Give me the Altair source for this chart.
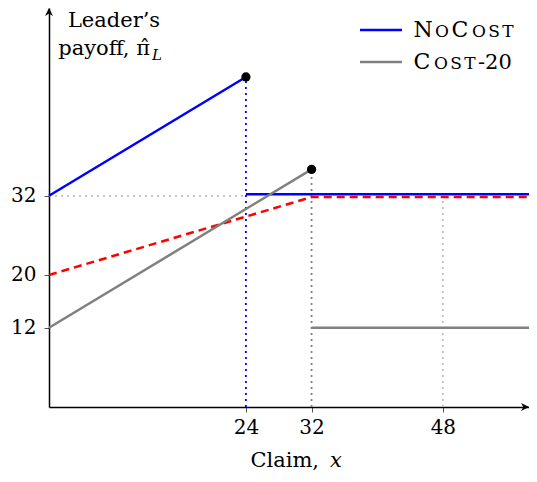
import altair as alt
import pandas as pd

# ---- data ----
XMAX = 58.5
YMAX = 60.45
nocost_rise_x = [0, 24]
nocost_rise_y = [32, 50]
nocost_flat_x = [24, XMAX]
nocost_flat_y = [32.25, 32.25]
cost_rise_x = [0, 32]
cost_rise_y = [12, 36]
cost_flat_x = [32, XMAX]
cost_flat_y = [12, 12]
red_x = [0, 32, XMAX]
red_y = [20, 31.8, 31.8]
dots_x = [24, 32]
dots_y = [50, 36]
x_ticks = [24, 32, 48]
y_ticks = [12, 20, 32]

# legend text as small capitals: (character, is_small)
legend1 = [("N", 0), ("O", 1), ("C", 0), ("O", 1), ("S", 1), ("T", 1)]
legend2 = [("C", 0), ("O", 1), ("S", 1), ("T", 1)]
legend1_cx = [374, 393, 411, 430, 445, 459]
legend2_cx = [373, 392, 407, 421]
legend2_tail = "-20"

FONT = "DejaVu Serif"


def seg_df(parts):
    rows = []
    for s, (xs_, ys_) in enumerate(parts):
        for i, (a, b) in enumerate(zip(xs_, ys_)):
            rows.append({"x": a, "y": b, "seg": s, "i": i})
    return pd.DataFrame(rows)


blue_df = seg_df([(nocost_rise_x, nocost_rise_y), (nocost_flat_x, nocost_flat_y)])
gray_df = seg_df([(cost_rise_x, cost_rise_y), (cost_flat_x, cost_flat_y)])
red_df = seg_df([(red_x, red_y)])
dots_df = pd.DataFrame({"x": dots_x, "y": dots_y})

xs = alt.Scale(domain=[0, XMAX], nice=False, zero=False)
ys = alt.Scale(domain=[0, YMAX], nice=False, zero=False)

X = alt.X("x:Q", scale=xs, axis=alt.Axis(values=x_ticks, title=None, grid=False,
                                          domainColor="black", domainWidth=1.5,
                                          tickColor="#555", tickSize=5, tickWidth=1,
                                          labelFont=FONT, labelFontSize=20, labelColor="black",
                                          labelPadding=5))
Y = alt.Y("y:Q", scale=ys, axis=alt.Axis(values=y_ticks, title=None, grid=False,
                                          domainColor="black", domainWidth=1.5,
                                          tickColor="#555", tickSize=5, tickWidth=1,
                                          labelFont=FONT, labelFontSize=20, labelColor="black",
                                          labelPadding=8))

# guide lines
vrules = pd.DataFrame({"x": [24, 32, 48], "y": [0, 0, 0], "y2": [50, 36, 32],
                       "c": ["#0000ff", "#808080", "#c0c0c0"]})
hrule = pd.DataFrame({"x": [0], "x2": [24], "y": [32]})

vr = alt.Chart(vrules).mark_rule(strokeDash=[2, 4], strokeWidth=1.8).encode(
    x=X, y=Y, y2="y2:Q", color=alt.Color("c:N", scale=None))
hr = alt.Chart(hrule).mark_rule(strokeDash=[2, 4], strokeWidth=1.8, color="#c0c0c0").encode(
    x=X, x2="x2:Q", y=Y)

blue = alt.Chart(blue_df).mark_line(color="#0000ff", strokeWidth=2.5).encode(
    x=X, y=Y, detail="seg:N", order="i:Q")
red = alt.Chart(red_df).mark_line(color="#ff0000", strokeWidth=2.5, strokeDash=[8, 5]).encode(
    x=X, y=Y, order="i:Q")
gray = alt.Chart(gray_df).mark_line(color="#808080", strokeWidth=2.5).encode(
    x=X, y=Y, detail="seg:N", order="i:Q")
dots = alt.Chart(dots_df).mark_point(filled=True, color="black", opacity=1, size=85).encode(x=X, y=Y)

# axis arrows
arr_r = alt.Chart(pd.DataFrame({"x": [XMAX], "y": [0]})).mark_point(
    shape="M-2,-1L0,0L-2,1L-1.4,0Z", filled=True, color="black", opacity=1, size=64, clip=False
).encode(x=X, y=Y)
arr_u = alt.Chart(pd.DataFrame({"x": [0], "y": [YMAX]})).mark_point(
    shape="M-1,2L0,0L1,2L0,1.4Z", filled=True, color="black", opacity=1, size=64, clip=False
).encode(x=X, y=Y)


def label(txt, px, py, size=20, align="left", style="normal"):
    return alt.Chart(pd.DataFrame({"t": [txt]})).mark_text(
        font=FONT, fontSize=size, align=align, baseline="alphabetic", fontStyle=style,
        color="black"
    ).encode(text="t:N", x=alt.value(px), y=alt.value(py))


def lrule(color, px1, px2, py):
    return alt.Chart(pd.DataFrame({"a": [0]})).mark_rule(color=color, strokeWidth=2.5).encode(
        x=alt.value(px1), x2=alt.value(px2), y=alt.value(py))


def smallcaps(chars, centers, py):
    out = []
    for (ch, small), cx in zip(chars, centers):
        out.append(label(ch, cx, py, size=17 if small else 22, align="center"))
    return out


texts = [
    label("Leader’s", 65, 19, size=21, align="center"),
    label("payoff, π̂", 101, 47, size=21, align="right"),
    label("L", 103, 52, size=15, style="italic"),
    label("Claim,", 270, 459, size=21, align="right"),
    label("x", 281, 459, size=21, style="italic"),
    lrule("#0000ff", 311, 353, 22),
    lrule("#808080", 311, 353, 54),
    label(legend2_tail, 429, 61, size=21),
] + smallcaps(legend1, legend1_cx, 29) + smallcaps(legend2, legend2_cx, 61)

chart = alt.layer(vr, hr, blue, red, gray, dots, arr_r, arr_u, *texts).properties(
    width=480, height=399,
    autosize=alt.AutoSizeParams(type="none"),
    padding={"left": 41, "top": 0, "right": 0, "bottom": 67},
).configure_view(stroke=None)

chart.save("out.html", embed_options={"renderer": "svg", "actions": False})
